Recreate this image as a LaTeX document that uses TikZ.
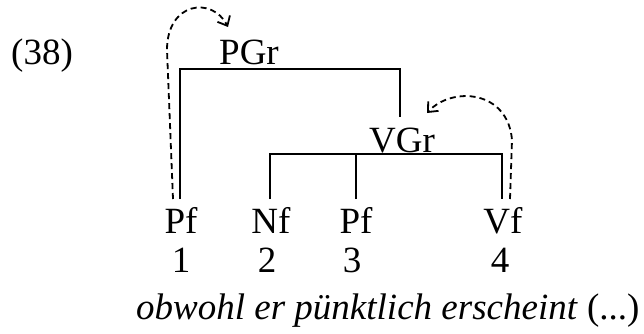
\documentclass[tikz,border=0pt]{standalone}
\usepackage{fontspec}
\setmainfont{Liberation Serif}
\usetikzlibrary{arrows.meta}
\begin{document}
\begin{tikzpicture}[x=1pt,y=-1pt,
  lbl/.style={inner sep=0pt,anchor=base,font=\fontsize{37}{41}\selectfont},
  br/.style={line width=2pt},
  mv/.style={line width=1.8pt,dash pattern=on 6pt off 4pt,-{Straight Barb[length=8pt,width=14pt]}}]
\useasboundingbox (0,0) rectangle (644,334);
\node[lbl,anchor=base west] (ex) at (11,65) {(38)};
\node[lbl] (pgr) at (249,65) {PGr};
\node[lbl] (vgr) at (402,152) {VGr};
\node[lbl] (w1) at (181,233) {Pf};
\node[lbl] (w2) at (271,233) {Nf};
\node[lbl] (w3) at (356,233) {Pf};
\node[lbl] (w4) at (503,233) {Vf};
\node[lbl] (n1) at (181,272) {1};
\node[lbl] (n2) at (267,272) {2};
\node[lbl] (n3) at (352,272) {3};
\node[lbl] (n4) at (500,272) {4};
\node[lbl,anchor=base west] (gl) at (136,319) {\textit{obwohl er pünktlich erscheint} (...)};
% bracket coordinates
\coordinate (p1) at (180,199);
\coordinate (pl) at (180,69);
\coordinate (pr) at (400,69);
\coordinate (pd) at (400,117);
\coordinate (v2) at (270,199);
\coordinate (v2t) at (270,154);
\coordinate (v3) at (356,199);
\coordinate (v3t) at (356,154);
\coordinate (v4) at (502,199);
\coordinate (v4t) at (502,154);
\draw[br] (p1) -- (pl) -- (pr) -- (pd);
\draw[br] (v2) -- (v2t) -- (v4t) -- (v4);
\draw[br] (v3) -- (v3t);
% movement arrows
\coordinate (a1s) at (173,199);
\coordinate (a1m) at (167,50);
\coordinate (a1e) at (228,27);
\coordinate (a2s) at (510,199);
\coordinate (a2m) at (512,140);
\coordinate (a2e) at (427,113);
\draw[mv] (a1s) -- (a1m) .. controls (167,2) and (212,-4) .. (a1e);
\draw[mv] (a2s) -- (a2m) .. controls (508,90) and (452,86) .. (a2e);
\end{tikzpicture}
\end{document}
